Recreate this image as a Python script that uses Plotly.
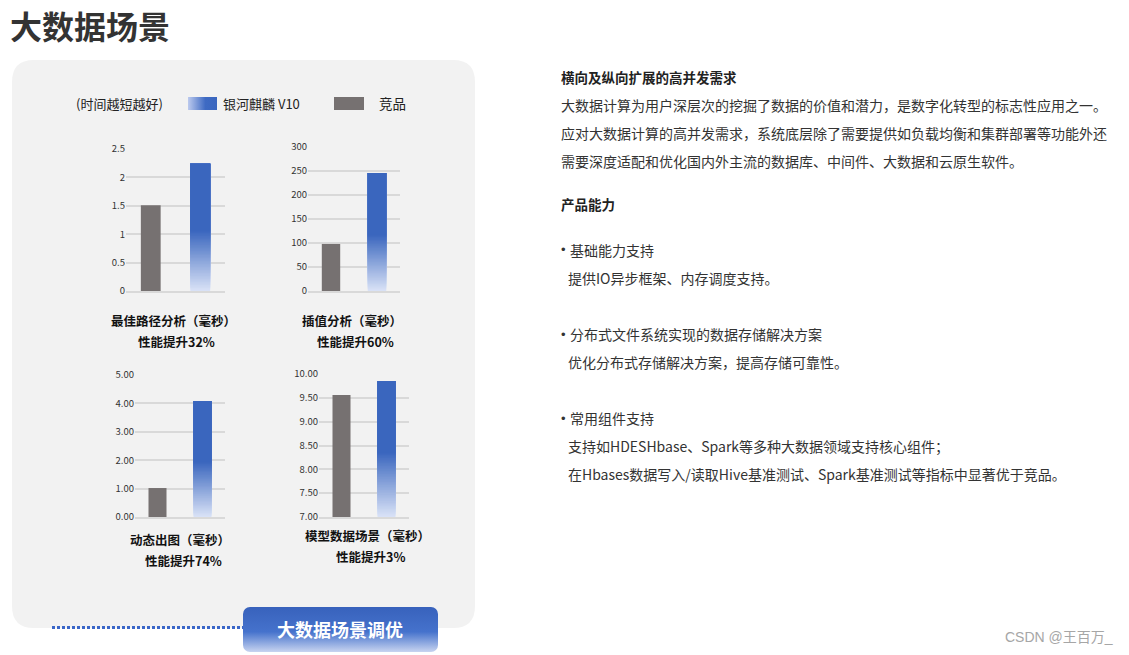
import base64
import plotly.graph_objects as go

W, H = 1129, 655

# ---------------- data ----------------
categories = ["竞品", "银河麒麟 V10"]
path_vals = [1.51, 2.24]
interp_vals = [98, 246]
dynamic_vals = [1.02, 4.08]
model_vals = [9.56, 9.85]

chart_titles = ["最佳路径分析（毫秒）", "插值分析（毫秒）", "动态出图（毫秒）", "模型数据场景（毫秒）"]
chart_gains = ["性能提升32%", "性能提升60%", "性能提升74%", "性能提升3%"]

y_ranges = [[0, 2.5], [0, 300], [0, 5], [7, 10]]
y_dticks = [0.5, 50, 1, 0.5]
y_formats = ["", "", ".2f", ".2f"]

# (kind, text, y) kind: h=bold heading, p=paragraph, u=bullet item, i=indented detail
right_lines = [
    ("h", "横向及纵向扩展的高并发需求", 77),
    ("p", "大数据计算为用户深层次的挖掘了数据的价值和潜力，是数字化转型的标志性应用之一。", 105),
    ("p", "应对大数据计算的高并发需求，系统底层除了需要提供如负载均衡和集群部署等功能外还", 133),
    ("p", "需要深度适配和优化国内外主流的数据库、中间件、大数据和云原生软件。", 161),
    ("h", "产品能力", 204),
    ("u", "基础能力支持", 250),
    ("i", "提供IO异步框架、内存调度支持。", 278),
    ("u", "分布式文件系统实现的数据存储解决方案", 334),
    ("i", "优化分布式存储解决方案，提高存储可靠性。", 362),
    ("u", "常用组件支持", 418),
    ("i", "支持如HDESHbase、Spark等多种大数据领域支持核心组件；", 446),
    ("i", "在Hbases数据写入/读取Hive基准测试、Spark基准测试等指标中显著优于竞品。", 474),
]

FONT = "Noto Sans CJK SC"
GREY = "#767171"
BLUE = "#3A66BE"
LIGHT = "#D8E1F6"


def X(px):
    return px / W


def Y(py):
    return 1 - py / H


def hex2rgb(h):
    h = h.lstrip("#")
    return tuple(int(h[i:i + 2], 16) for i in (0, 2, 4))


def mix(c1, c2, t):
    a, b = hex2rgb(c1), hex2rgb(c2)
    return "rgb(%d,%d,%d)" % tuple(round(a[i] + (b[i] - a[i]) * t) for i in range(3))


def svg_uri(svg):
    return "data:image/svg+xml;base64," + base64.b64encode(svg.encode("utf-8")).decode("ascii")


def note(px, py, text, size, color="#333333", anchor="left", family=FONT, yanchor="middle"):
    fig.add_annotation(x=X(px), y=Y(py), xref="paper", yref="paper", showarrow=False,
                       text=text, xanchor=anchor, yanchor=yanchor, borderpad=0,
                       font=dict(family=family, size=size, color=color))


fig = go.Figure()

# axis geometry (pixel boxes)
x_boxes = [(126, 225), (308, 400), (135, 225), (319, 409)]
y_boxes = [(149, 291), (147, 291), (375, 517), (374, 517)]
title_pos = [(173, 330.5), (352, 330.5), (180, 550), (367, 546)]
all_vals = [path_vals, interp_vals, dynamic_vals, model_vals]

N = 40
G = 0.47
for k in range(4):
    sfx = "" if k == 0 else str(k + 1)
    xa, ya = "x" + sfx, "y" + sfx
    vals = all_vals[k]
    lo = y_ranges[k][0]
    # competitor bar
    fig.add_trace(go.Bar(x=[categories[0]], y=[vals[0] - lo], base=[lo], width=0.4,
                         marker=dict(color=GREY, line=dict(width=0)),
                         xaxis=xa, yaxis=ya, showlegend=False, hoverinfo="skip"))
    # Kylin bar with vertical gradient (overlapping slices)
    v = vals[1]
    bases, heights, colors = [], [], []
    for i in range(N + 1):
        b = lo + (v - lo) * G * i / N
        bases.append(b)
        heights.append(v - b)
        colors.append(mix(LIGHT, BLUE, i / N))
    fig.add_trace(go.Bar(x=[categories[1]] * (N + 1), y=heights, base=bases, width=0.4,
                         marker=dict(color=colors, line=dict(width=0)),
                         xaxis=xa, yaxis=ya, showlegend=False, hoverinfo="skip"))

    x0, x1 = x_boxes[k]
    yt, yb = y_boxes[k]
    fig.layout["xaxis" + sfx] = dict(domain=[X(x0), X(x1)], anchor=ya, type="category",
                                     categoryorder="array", categoryarray=categories,
                                     range=[-0.5, 1.5], showticklabels=False, showgrid=False,
                                     zeroline=False, showline=True, linecolor="#D9D9D9",
                                     linewidth=2, ticks="", fixedrange=True, automargin=False)
    fig.layout["yaxis" + sfx] = dict(domain=[Y(yb), Y(yt)], anchor=xa, range=y_ranges[k],
                                     dtick=y_dticks[k], tick0=y_ranges[k][0],
                                     tickformat=y_formats[k], showgrid=True,
                                     gridcolor="#D9D9D9", gridwidth=2, zeroline=False,
                                     showline=False, ticks="", automargin=False,
                                     tickfont=dict(family=FONT, size=9.5, color="#333333"),
                                     fixedrange=True)
    cx, cy = title_pos[k]
    note(cx, cy, "<b>" + chart_titles[k] + "</b>", 12.5, color="#111111", anchor="center",
         yanchor="bottom")
    note(cx + 3, cy, "<b>" + chart_gains[k] + "</b>", 12.5, color="#111111", anchor="center",
         yanchor="top")

# ---------------- decorations ----------------
rx, ry = 22 / W, 22 / H
px0, px1, py0, py1 = X(12), X(475), Y(628), Y(60)
panel_path = (f"M {px0 + rx},{py1} L {px1 - rx},{py1} Q {px1},{py1} {px1},{py1 - ry} "
              f"L {px1},{py0 + ry} Q {px1},{py0} {px1 - rx},{py0} "
              f"L {px0 + rx},{py0} Q {px0},{py0} {px0},{py0 + ry} "
              f"L {px0},{py1 - ry} Q {px0},{py1} {px0 + rx},{py1} Z")
fig.add_shape(type="path", path=panel_path, xref="paper", yref="paper",
              fillcolor="#F2F2F2", line=dict(width=0), layer="below")

# dotted connector
fig.add_shape(type="line", xref="paper", yref="paper", x0=X(52), x1=X(243), y0=Y(627.5), y1=Y(627.5),
              line=dict(color="#3A66C8", width=3, dash="3px,2px"), layer="above")

# legend swatches
legend_svg = ('<svg xmlns="http://www.w3.org/2000/svg" width="29" height="13" viewBox="0 0 29 13">'
              '<defs><linearGradient id="g" x1="0" y1="0" x2="1" y2="0">'
              '<stop offset="0" stop-color="#BCCAEE"/><stop offset="0.6" stop-color="#3E6AC3"/>'
              '<stop offset="1" stop-color="#3A66BE"/></linearGradient></defs>'
              '<rect x="0" y="0" width="29" height="13" fill="url(#g)"/></svg>')
fig.add_layout_image(source=svg_uri(legend_svg), xref="paper", yref="paper", x=X(188), y=Y(97),
                     sizex=29 / W, sizey=13 / H, xanchor="left", yanchor="top",
                     sizing="stretch", layer="above")
fig.add_shape(type="rect", xref="paper", yref="paper", x0=X(334), x1=X(364), y0=Y(110), y1=Y(97),
              fillcolor=GREY, line=dict(width=0))
note(75, 103, "(时间越短越好)", 13, color="#222222")
note(222, 103, "银河麒麟 V10", 13, color="#222222")
note(378, 103, "竞品", 13.5, color="#222222")

# button
btn_svg = ('<svg xmlns="http://www.w3.org/2000/svg" width="195" height="45" viewBox="0 0 195 45">'
           '<defs><linearGradient id="b" x1="0" y1="0" x2="0" y2="1">'
           '<stop offset="0" stop-color="#3862BC"/><stop offset="0.55" stop-color="#4572CC"/>'
           '<stop offset="1" stop-color="#C8D4F0"/></linearGradient></defs>'
           '<rect x="0" y="0" width="195" height="45" rx="7" ry="7" fill="url(#b)"/></svg>')
fig.add_layout_image(source=svg_uri(btn_svg), xref="paper", yref="paper", x=X(243), y=Y(607),
                     sizex=195 / W, sizey=45 / H, xanchor="left", yanchor="top",
                     sizing="stretch", layer="above")
note(340, 629, "<b>大数据场景调优</b>", 18, color="#FFFFFF", anchor="center")

# page title
note(9, 25, "<b>大数据场景</b>", 32, color="#333333")

# right text block
for kind, txt, py in right_lines:
    if kind == "h":
        note(560, py, "<b>" + txt + "</b>", 13.5, color="#222222")
    elif kind == "p":
        note(560, py, txt, 14)
    elif kind == "u":
        note(560, py, "•", 13, family="Liberation Sans")
        note(569, py, txt, 14)
    else:
        note(567, py, txt, 14)

# watermark
note(1114, 637, "CSDN @王百万_", 14, color="#A6A6A6", anchor="right",
     family="Liberation Sans, Noto Sans CJK SC")

fig.update_layout(width=W, height=H,
                  margin=dict(l=0, r=0, t=0, b=0, pad=0, autoexpand=False),
                  paper_bgcolor="#FFFFFF", plot_bgcolor="rgba(0,0,0,0)",
                  barmode="overlay", showlegend=False)

fig.write_html("out.html", config={"displayModeBar": False},
               post_script="document.body.style.margin='0';document.body.style.overflow='hidden';")
